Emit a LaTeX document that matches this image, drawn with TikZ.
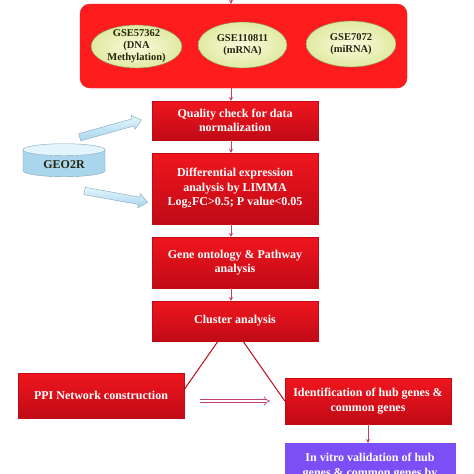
\documentclass[tikz,border=0pt]{standalone}
\usepackage{fontspec}
\setmainfont{Liberation Serif}
\usepackage{xcolor}
\definecolor{red500}{HTML}{FF1C1C}
\definecolor{red600}{HTML}{F0161E}
\definecolor{red800}{HTML}{C00A16}
\definecolor{lime100}{HTML}{F8FBDC}
\definecolor{lime300}{HTML}{E0EAA2}
\definecolor{violet500}{HTML}{7B4EF6}
\definecolor{sky100}{HTML}{E4F5FC}
\definecolor{sky300}{HTML}{A9D6EC}
\definecolor{sky600}{HTML}{7FA6BD}
\definecolor{rose600}{HTML}{C8406A}
\definecolor{olive900}{HTML}{26260E}
\usetikzlibrary{shapes.geometric, shapes.arrows, arrows.meta, positioning, calc}

\begin{document}
\begin{tikzpicture}[
    x=1pt, y=-1pt,
    font=\bfseries\fontsize{12}{14.5}\selectfont,
    >={Stealth[length=4pt, width=4pt]},
    block/.style={top color=red600, bottom color=red800, draw=red800, minimum width=166pt, align=center, text=white, inner sep=2pt},
    dataset/.style={ellipse, inner color=lime100, outer color=lime300, draw=lime300!60!black, align=center, text=olive900, font=\bfseries\fontsize{10.5}{12}\selectfont, inner sep=-4pt},
    flow/.style={->, draw=rose600, line width=0.8pt},
    tie/.style={draw=red800, line width=1pt},
    feed/.style={single arrow, sloped, draw=sky600, top color=sky100, bottom color=sky300, inner sep=3.5pt, single arrow head extend=3.5pt, single arrow tip angle=80}
]

\useasboundingbox (0,0) rectangle (474,474);
\clip (0,0) rectangle (474,474);
\fill[white] (0,0) rectangle (474,474);

% ── Datasets ──
\node[rounded corners=10pt, fill=red500, draw=red500!85!black, minimum width=327pt, minimum height=84pt] (top) at (243.5,46) {};
\node[dataset, minimum width=91pt, minimum height=43pt] (gse1) at (136.5,46.5) {GSE57362\\(DNA\\Methylation)};
\node[dataset, minimum width=89pt, minimum height=46pt] (gse2) at (242.5,45) {GSE110811\\(mRNA)};
\node[dataset, minimum width=90pt, minimum height=46pt] (gse3) at (351,44) {GSE7072\\(miRNA)};

% ── Pipeline ──
\node[block, minimum height=39pt] (qc) at (235,120.5) {Quality check for data\\normalization};
\node[block, minimum height=71pt] (dea) at (235,188.5) {Differential expression\\analysis by LIMMA\\Log\textsubscript{2}FC>0.5; P value<0.05};
\node[block, minimum height=51pt] (go) at (235,262.5) {Gene ontology \& Pathway\\analysis};
\node[block, minimum height=40pt] (clus) at (235,321) {Cluster analysis};
\node[block, minimum height=45pt] (ppi) at (101,395.5) {PPI Network construction};
\node[block, minimum height=46pt] (hub) at (368,401) {Identification of hub genes \&\\common genes};
\node[block, top color=violet500, bottom color=violet500, draw=violet500, anchor=north, inner ysep=10pt, minimum width=170pt] (val) at (370,443) {In vitro validation of hub\\genes \& common genes by};

% ── GEO2R ──
\node[cylinder, shape border rotate=90, aspect=0.25, draw=sky600, cylinder uses custom fill, cylinder body fill=sky300, cylinder end fill=sky100, minimum width=82pt, minimum height=33pt, text=olive900] (geo) at (64,164.5) {GEO2R};
\coordinate (f1s) at ($(geo.center)+(13,-26.5)$);
\coordinate (f1e) at ($(qc.west)+(-12,0)$);
\coordinate (f2s) at ($(geo.center)+(18,26)$);
\coordinate (f2e) at ($(dea.west)+(-6,13.5)$);
\path (f1s) -- node[feed, minimum height=64pt] {} (f1e);
\path (f2s) -- node[feed, minimum height=64pt] {} (f2e);

% ── Routing ──
\coordinate (spine) at (231,-8);
\draw[flow] (spine) -- (spine |- top.north);
\draw[flow] (spine |- top.south) -- (spine |- qc.north);
\draw[flow] (spine |- qc.south) -- (spine |- dea.north);
\draw[flow] (spine |- dea.south) -- (spine |- go.north);
\draw[flow] (spine |- go.south) -- (spine |- clus.north);
\draw[tie] ($(clus.south)+(-17,0)$) -- ($(ppi.east)+(0,-6)$);
\draw[tie] ($(clus.south)+(8,0)$) -- (hub.west);
\draw[double=white, double distance=2.5pt, draw=rose600, line width=0.7pt, -{Implies}]
     ($(ppi.east |- hub.west)+(16,0)$) -- ($(hub.west)+(-15,0)$);
\draw[flow] (hub.south) -- (hub.south |- val.north);

\end{tikzpicture}
\end{document}
